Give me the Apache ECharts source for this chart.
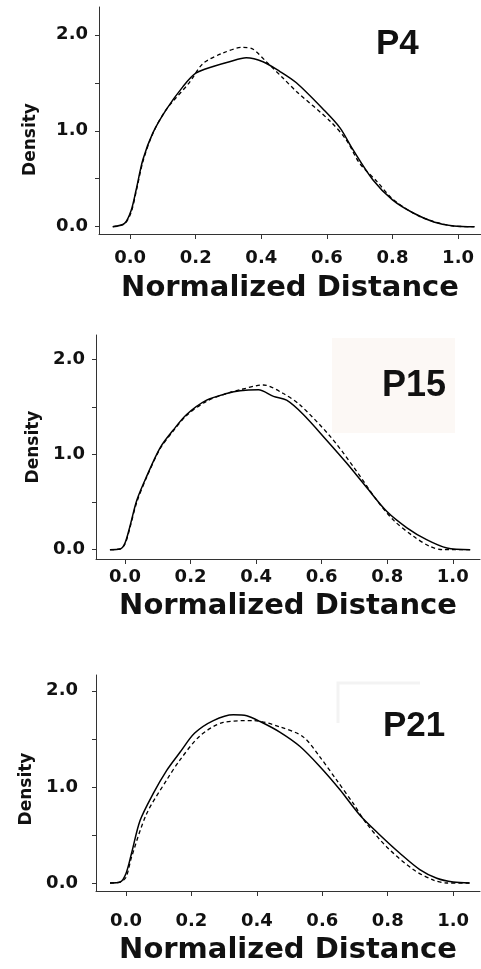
<!DOCTYPE html>
<html>
<head>
<meta charset="utf-8">
<script src="https://cdn.jsdelivr.net/npm/echarts@6/dist/echarts.min.js"></script>
<style>
html, body { margin: 0; padding: 0; background: #fff; }
#chart { width: 481px; height: 969px; }
</style>
</head>
<body>
<div id="chart"></div>
<script>
// tick values
var xTicks = [0, 0.2, 0.4, 0.6, 0.8, 1.0];
var yTicks = [0, 0.5, 1.0, 1.5, 2.0];
var yLabels = [0, 1.0, 2.0];
var panelNames = ['P4', 'P15', 'P21'];

// P4 curves [distance, density]
var p4Solid = [[-0.053,0],[-0.017,0.035],[0.003,0.17],[0.018,0.38],[0.039,0.7],[0.069,0.975],[0.11,1.22],[0.161,1.46],[0.2,1.6],[0.253,1.67],[0.303,1.72],[0.354,1.76],[0.405,1.72],[0.456,1.62],[0.507,1.5],[0.59,1.22],[0.64,1.03],[0.68,0.8],[0.74,0.49],[0.8,0.28],[0.865,0.14],[0.926,0.05],[0.987,0.007],[1.05,0]];
var p4Dashed = [[-0.053,0],[-0.017,0.03],[0.003,0.15],[0.018,0.36],[0.039,0.68],[0.069,0.97],[0.11,1.22],[0.18,1.5],[0.222,1.7],[0.283,1.81],[0.344,1.87],[0.375,1.85],[0.415,1.72],[0.466,1.55],[0.507,1.41],[0.61,1.1],[0.66,0.9],[0.7,0.66],[0.753,0.47],[0.8,0.29],[0.875,0.12],[0.93,0.05],[0.987,0.007],[1.05,0]];

// P15 curves
var p15Solid = [[-0.046,0],[-0.015,0.007],[0,0.07],[0.015,0.245],[0.036,0.52],[0.066,0.77],[0.107,1.07],[0.148,1.26],[0.188,1.42],[0.249,1.57],[0.31,1.64],[0.351,1.67],[0.407,1.68],[0.453,1.61],[0.493,1.57],[0.544,1.42],[0.615,1.15],[0.676,0.91],[0.738,0.65],[0.799,0.4],[0.86,0.23],[0.92,0.105],[0.982,0.017],[1.053,0]];
var p15Dashed = [[-0.046,0],[-0.015,0.007],[0,0.06],[0.015,0.23],[0.036,0.5],[0.066,0.76],[0.107,1.06],[0.148,1.25],[0.188,1.41],[0.249,1.56],[0.31,1.64],[0.351,1.68],[0.422,1.73],[0.483,1.64],[0.534,1.52],[0.626,1.19],[0.697,0.87],[0.768,0.52],[0.819,0.31],[0.88,0.14],[0.93,0.035],[0.97,0],[1.053,0]];

// P21 curves
var p21Solid = [[-0.049,0],[-0.018,0.01],[0,0.1],[0.017,0.31],[0.043,0.65],[0.083,0.93],[0.124,1.17],[0.165,1.36],[0.21,1.56],[0.267,1.69],[0.328,1.75],[0.369,1.74],[0.41,1.68],[0.47,1.57],[0.532,1.42],[0.593,1.21],[0.654,0.97],[0.715,0.705],[0.776,0.5],[0.837,0.31],[0.898,0.14],[0.95,0.05],[1.0,0.01],[1.05,0]];
var p21Dashed = [[-0.049,0],[-0.018,0.01],[0,0.06],[0.017,0.27],[0.063,0.72],[0.124,1.07],[0.165,1.28],[0.226,1.53],[0.297,1.67],[0.389,1.69],[0.47,1.625],[0.542,1.52],[0.593,1.31],[0.644,1.07],[0.694,0.83],[0.735,0.62],[0.797,0.375],[0.878,0.14],[0.94,0.03],[0.98,0],[1.05,0]];

var solids = [p4Solid, p15Solid, p21Solid];
var dashes = [p4Dashed, p15Dashed, p21Dashed];

// panel geometry
var grids = [
    {left: 99, top: 7, width: 382, height: 227},
    {left: 96, top: 335, width: 384, height: 224},
    {left: 96, top: 675, width: 384, height: 216}
];
var xRange = [[-0.095, 1.07], [-0.0885, 1.083], [-0.0917, 1.082]];
var yRange = [[-0.076, 2.29], [-0.098, 2.255], [-0.083, 2.164]];
var xLabelMargin = [15, 9, 21];
var xNameGap = [40, 33, 45];
var yLabelMargin = [11, 11, 18];
var yNameGap = [60, 52, 51];
var yNamePad = [[0, 38, 0, 0], [0, 0, 0, 0], [0, 12, 0, 0]];

var axisFont = 'DejaVu Sans';
var fmt = function (v) { return v.toFixed(1); };

var chart = echarts.init(document.getElementById('chart'));
var option = {
    backgroundColor: '#fff',
    animation: false,
    grid: grids,
    xAxis: [],
    yAxis: [],
    series: [],
    graphic: [
        {type: 'rect', shape: {x: 332, y: 338, width: 123, height: 95}, style: {fill: '#fcf8f5'}, z: -1},
        {type: 'polyline', shape: {points: [[338, 723], [338, 683], [420, 683]]}, style: {stroke: '#f3f3f3', lineWidth: 3, fill: null}, z: -1},
        {type: 'text', left: 376, top: 27, style: {text: panelNames[0], font: 'bold 35px "Liberation Sans", Arial', fill: '#111'}},
        {type: 'text', left: 382, top: 368, style: {text: panelNames[1], font: 'bold 36px "Liberation Sans", Arial', fill: '#111'}},
        {type: 'text', left: 383, top: 709, style: {text: panelNames[2], font: 'bold 35px "Liberation Sans", Arial', fill: '#111'}}
    ]
};

for (var i = 0; i < 3; i++) {
    option.xAxis.push({
        type: 'value', gridIndex: i,
        min: xRange[i][0], max: xRange[i][1],
        name: 'Normalized Distance', nameLocation: 'middle', nameGap: xNameGap[i],
        nameTextStyle: {fontFamily: axisFont, fontWeight: 'bold', fontSize: 29, color: '#111'},
        axisLine: {onZero: false, lineStyle: {color: '#333', width: 1}},
        axisTick: {customValues: xTicks, length: 5, lineStyle: {color: '#333'}},
        axisLabel: {customValues: xTicks, formatter: fmt, margin: xLabelMargin[i],
            fontFamily: axisFont, fontWeight: 'bold', fontSize: 18, color: '#111'},
        splitLine: {show: false}
    });
    option.yAxis.push({
        type: 'value', gridIndex: i,
        min: yRange[i][0], max: yRange[i][1],
        name: 'Density', nameLocation: 'middle', nameGap: yNameGap[i],
        nameTextStyle: {fontFamily: axisFont, fontWeight: 'bold', fontSize: 17, color: '#111', padding: yNamePad[i]},
        axisLine: {onZero: false, lineStyle: {color: '#333', width: 1}},
        axisTick: {customValues: yTicks, length: 4, lineStyle: {color: '#333'}},
        axisLabel: {customValues: yLabels, formatter: fmt, margin: yLabelMargin[i],
            fontFamily: axisFont, fontWeight: 'bold', fontSize: 18, color: '#111'},
        splitLine: {show: false}
    });
    option.series.push({
        type: 'line', name: panelNames[i] + ' solid', xAxisIndex: i, yAxisIndex: i,
        data: solids[i], showSymbol: false, smooth: 0.3,
        lineStyle: {color: '#000', width: 1.5, type: 'solid'}
    });
    option.series.push({
        type: 'line', name: panelNames[i] + ' dashed', xAxisIndex: i, yAxisIndex: i,
        data: dashes[i], showSymbol: false, smooth: 0.3,
        lineStyle: {color: '#000', width: 1.3, type: [4, 3]}
    });
}

chart.setOption(option);
</script>
</body>
</html>
